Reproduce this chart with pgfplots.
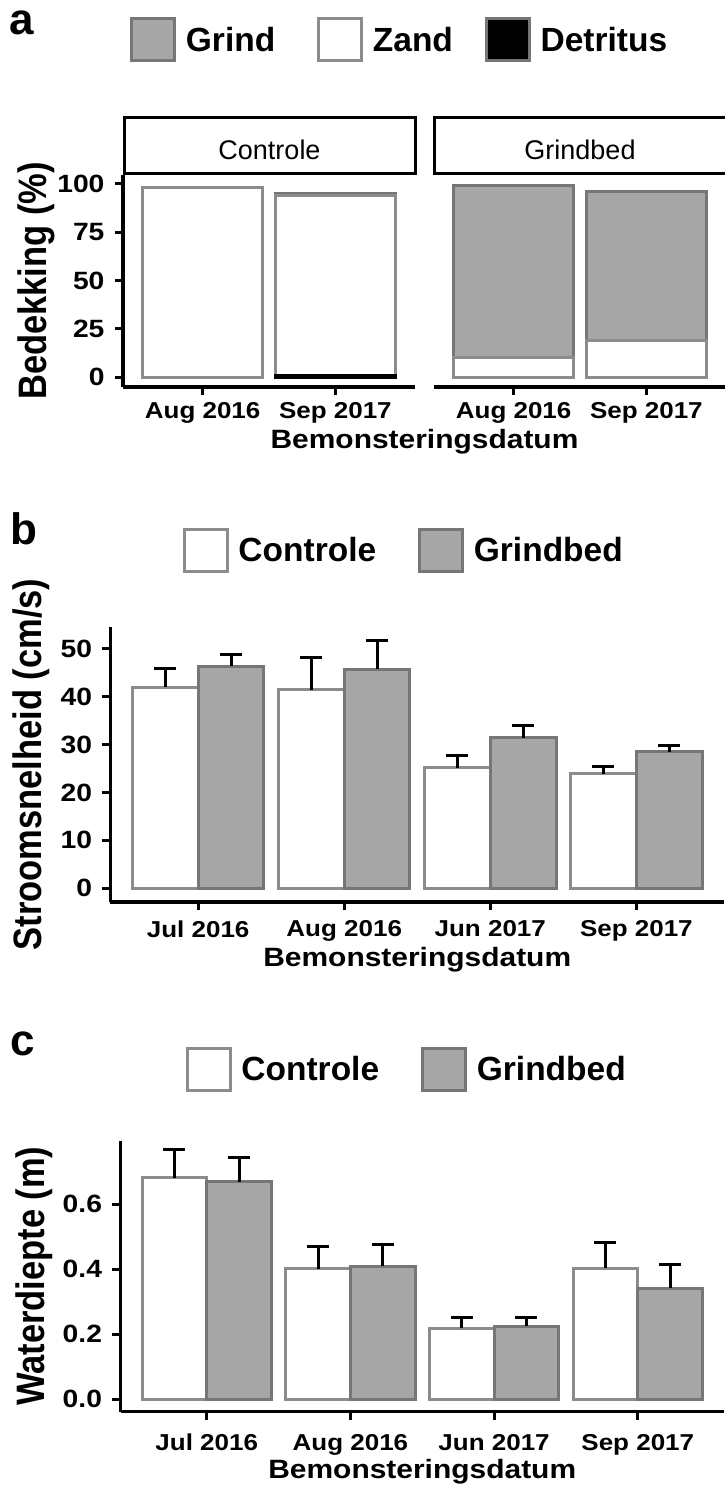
\documentclass[border=0pt]{standalone}
\usepackage{fontspec}
\setmainfont{Liberation Sans}
\newfontfamily\wide{Liberation Sans}[FakeStretch=1.13]
\usepackage{graphicx}
\usepackage{pgfplots}
\pgfplotsset{compat=1.18}
\usepackage{pgfplotstable}
\definecolor{barfill}{HTML}{A6A6A6}
\definecolor{edgeW}{HTML}{8C8C8C}
\definecolor{edgeG}{HTML}{767676}

% x = category, xc / xg = centres of the Controle / Grindbed bars
\pgfplotstableread{
x xc xg c ce g ge
1 0.775 1.225 42.0 3.8 46.3 2.5
2 1.775 2.225 41.4 6.8 45.7 6.1
3 2.775 3.225 25.2 2.6 31.4 2.5
4 3.775 4.225 23.9 1.5 28.5 1.4
}\speed

\pgfplotstableread{
x xc xg c ce g ge
1 0.775 1.225 0.681 0.087 0.669 0.074
2 1.775 2.225 0.401 0.068 0.409 0.066
3 2.775 3.225 0.218 0.032 0.225 0.025
4 3.775 4.225 0.403 0.080 0.341 0.074
}\depth

\pgfplotstableread{
x det zand grind
1 0 98 0
2 1 93 1
}\covC
\pgfplotstableread{
x det zand grind
1 0 10 89
2 0 19 77
}\covG

\pgfplotsset{
  base/.style={scale only axis, axis x line*=bottom, axis y line*=left,
    axis line style={line width=3.5pt, black},
    tick align=outside, major tick length=8pt,
    tick style={line width=3pt, black},
    tick label style={font=\wide\bfseries\fontsize{25}{25}\selectfont,
      /pgf/number format/assume math mode=true},
    yticklabel style={xshift=-7pt},
    xticklabel style={font=\wide\bfseries\fontsize{23}{23}\selectfont},
    xlabel style={font=\wide\bfseries\fontsize{26.5}{26.5}\selectfont, anchor=base},
    ylabel style={font=\bfseries\fontsize{34.5}{34.5}\selectfont, anchor=base},
    legend style={draw=none, fill=none, inner sep=0pt, anchor=west,
      font=\bfseries\fontsize{33.5}{33.5}\selectfont,
      /tikz/every even column/.append style={column sep=40pt}},
  },
  keybox/.style n args={2}{legend image code/.code={%
    \draw[fill=#1,draw=#2,line width=3pt] (0pt,-21pt) rectangle (43pt,21pt);
    \path (52pt,0pt);}},
  ebar/.style={error bars/.cd, y dir=plus, y explicit,
    error bar style={line width=3pt, black},
    error mark options={rotate=90, line width=3pt, black, mark size=11pt}},
}

\begin{document}
\begin{tikzpicture}[x=1pt,y=1pt]
\useasboundingbox (0,0) rectangle (724,-1499);

% ---------------- panel a ----------------
\node[font=\bfseries\fontsize{44}{44}\selectfont, anchor=base west, inner sep=0pt] at (9,-34) {a};
\draw[line width=3pt] (124,-117) rectangle (415,-173);
\node[font=\fontsize{27}{27}\selectfont, anchor=base, inner sep=0pt] at (269.5,-159) {Controle};
\draw[line width=3pt] (434,-117) rectangle (734,-173);
\node[font=\fontsize{27}{27}\selectfont, anchor=base, inner sep=0pt] at (580,-159) {Grindbed};

\begin{axis}[base, at={(123pt,-387pt)}, anchor=south west,
  width=292pt, height=212pt,
  xmin=0.4, xmax=2.6, ymin=-5.18, ymax=104.66,
  ytick={0,25,50,75,100}, xtick={1,2}, xticklabels={Aug 2016,Sep 2017},
  xticklabel style={yshift=-4pt},
  ybar stacked, bar width=0.9,
  xlabel={Bemonsteringsdatum},
  xlabel style={at={(axis description cs:1.0325,-0.288)}},
  ylabel={\scalebox{1}[1.15]{Bedekking (\%)}},
  ylabel style={at={(axis description cs:-0.2603,0.5)}},
  legend columns=3,
  legend style={at={(axis description cs:0.024,1.637)}},
]
\addlegendimage{keybox={barfill}{edgeG}}\addlegendentry{Grind}
\addlegendimage{keybox={white}{edgeW}}\addlegendentry{\makebox[70pt][l]{Zand}}
\addlegendimage{keybox={black}{edgeG}}\addlegendentry{Detritus}
\addplot[fill=black, draw=black, line width=3pt] table[x=x,y=det] {\covC};
\addplot[fill=white, draw=edgeW, line width=3pt] table[x=x,y=zand] {\covC};
\addplot[fill=barfill, draw=edgeG, line width=3pt] table[x=x,y=grind] {\covC};
\end{axis}

\begin{axis}[base, at={(434pt,-387pt)}, anchor=south west,
  width=292pt, height=212pt,
  xmin=0.4, xmax=2.6, ymin=-5.18, ymax=104.66,
  axis y line=none, ytick=\empty,
  xtick={1,2}, xticklabels={Aug 2016,Sep 2017},
  xticklabel style={yshift=-4pt},
  ybar stacked, bar width=0.9,
]
\addplot[fill=black, draw=edgeG, line width=3pt] table[x=x,y=det] {\covG};
\addplot[fill=white, draw=edgeW, line width=3pt] table[x=x,y=zand] {\covG};
\addplot[fill=barfill, draw=edgeG, line width=3pt] table[x=x,y=grind] {\covG};
\end{axis}

% ---------------- panel b ----------------
\node[font=\bfseries\fontsize{44}{44}\selectfont, anchor=base west, inner sep=0pt] at (10,-544) {b};
\begin{axis}[base, at={(110.5pt,-902pt)}, anchor=south west,
  width=613.5pt, height=275pt,
  xmin=0.4, xmax=4.6, ymin=-2.86, ymax=54.52,
  ytick={0,10,20,30,40,50}, xtick={1,2,3,4},
  xticklabels={Jul 2016,Aug 2016,Jun 2017,Sep 2017},
  xticklabel style={yshift=-7pt},
  xlabel={Bemonsteringsdatum},
  xlabel style={at={(axis description cs:0.5,-0.2327)}},
  ylabel={\scalebox{1}[1.15]{Stroomsnelheid (cm/s)}},
  ylabel style={at={(axis description cs:-0.1117,0.5)}},
  legend columns=2,
  legend style={at={(axis description cs:0.1175,1.278)}},
]
\addlegendimage{keybox={white}{edgeW}}\addlegendentry{Controle}
\addlegendimage{keybox={barfill}{edgeG}}\addlegendentry{Grindbed}
\addplot[ybar, bar width=0.45, bar shift=0pt, fill=white, draw=edgeW, line width=3pt, forget plot, ebar]
  table[x=xc, y=c, y error=ce] {\speed};
\addplot[ybar, bar width=0.45, bar shift=0pt, fill=barfill, draw=edgeG, line width=3pt, forget plot, ebar]
  table[x=xg, y=g, y error=ge] {\speed};
\end{axis}

% ---------------- panel c ----------------
\node[font=\bfseries\fontsize{44}{44}\selectfont, anchor=base west, inner sep=0pt] at (10,-1055) {c};
\begin{axis}[base, at={(120.5pt,-1411.7pt)}, anchor=south west,
  width=603.5pt, height=271pt,
  xmin=0.4, xmax=4.6, ymin=-0.0381, ymax=0.7945,
  ytick={0,0.2,0.4,0.6}, yticklabels={0.0,0.2,0.4,0.6},
  xtick={1,2,3,4},
  xticklabels={Jul 2016,Aug 2016,Jun 2017,Sep 2017},
  xticklabel style={yshift=-11pt},
  xlabel={Bemonsteringsdatum},
  xlabel style={at={(axis description cs:0.5,-0.2446)}},
  ylabel={\scalebox{1}[1.15]{Waterdiepte (m)}},
  ylabel style={at={(axis description cs:-0.1251,0.5)}},
  legend columns=2,
  legend style={at={(axis description cs:0.1078,1.2646)}},
]
\addlegendimage{keybox={white}{edgeW}}\addlegendentry{Controle}
\addlegendimage{keybox={barfill}{edgeG}}\addlegendentry{Grindbed}
\addplot[ybar, bar width=0.45, bar shift=0pt, fill=white, draw=edgeW, line width=3pt, forget plot, ebar]
  table[x=xc, y=c, y error=ce] {\depth};
\addplot[ybar, bar width=0.45, bar shift=0pt, fill=barfill, draw=edgeG, line width=3pt, forget plot, ebar]
  table[x=xg, y=g, y error=ge] {\depth};
\end{axis}
\end{tikzpicture}
\end{document}
